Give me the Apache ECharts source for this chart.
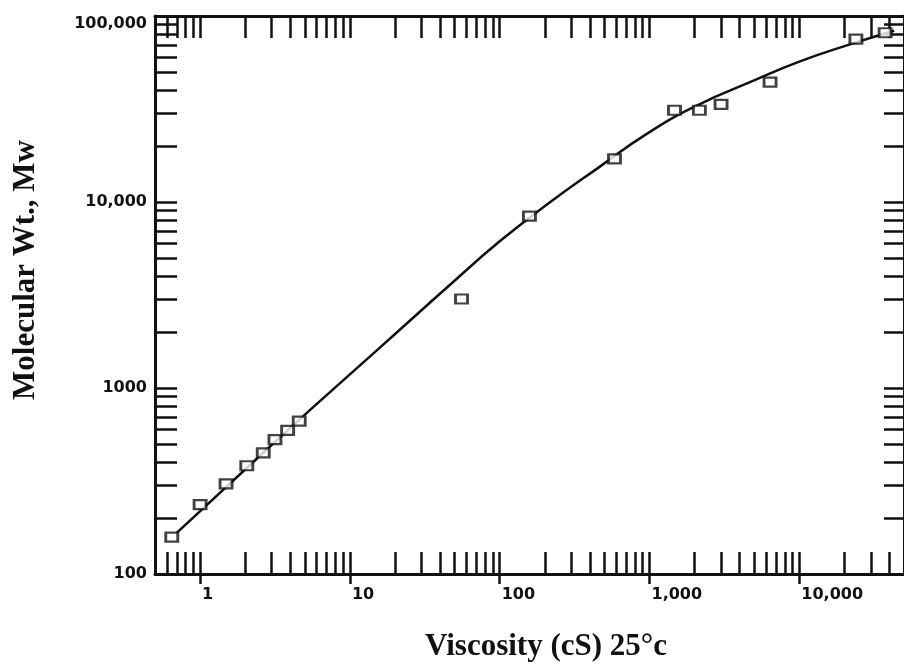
<!DOCTYPE html>
<html><head><meta charset="utf-8">
<script src="https://cdn.jsdelivr.net/npm/echarts@6/dist/echarts.min.js"></script>
<style>html,body{margin:0;padding:0;background:#fff}#c{width:904px;height:667px}</style>
</head><body><div id="c"></div>
<script>
// Measured points (viscosity cS, molecular weight Mw)
const viscosity = [0.647, 1.0, 1.49, 2.05, 2.64, 3.16, 3.84, 4.59, 55.6, 158, 584, 1468, 2154, 3005, 6380, 23870, 37400];
const molWt     = [158, 236, 305, 382, 448, 528, 592, 664, 3010, 8390, 17060, 31150, 31150, 33500, 44100, 75170, 81300];

// Fitted curve
const curveX = [0.692, 2.154, 4.642, 10, 21.54, 46.42, 100, 215.4, 464.2, 1000, 2154, 4642, 10000, 21540, 43000];
const curveY = [165.5, 385.7, 680.6, 1183, 2058, 3578, 6145, 9927, 15450, 23760, 33530, 43930, 56870, 70110, 83250];

// Axis ticks and labels
const xMin = 0.5, xMax = 50000, yMin = 100, yMax = 100000;
const xTickValues = [0.6,0.7,0.8,0.9,1,2,3,4,5,6,7,8,9,10,20,30,40,50,60,70,80,90,100,200,300,400,500,600,700,800,900,1000,2000,3000,4000,5000,6000,7000,8000,9000,10000,20000,30000,40000,50000];
const yTickValues = [100,200,300,400,500,600,700,800,900,1000,2000,3000,4000,5000,6000,7000,8000,9000,10000,20000,30000,40000,50000,60000,70000,80000,90000,100000];
const xLabelValues = [1, 10, 100, 1000, 10000];
const xLabelTexts  = ['1', '10', '100', '1,000', '10,000'];
const yLabelValues = [100, 1000, 10000, 100000];
const yLabelTexts  = ['100', '1000', '10,000', '100,000'];

function pick(vals, texts, v) {
  let best = 0, bd = Infinity;
  vals.forEach((x, i) => { const d = Math.abs(Math.log10(x) - Math.log10(v)); if (d < bd) { bd = d; best = i; } });
  return bd < 0.01 ? texts[best] : '';
}

const ink = '#111';
const labelFont = { fontFamily: 'DejaVu Sans', fontWeight: 'bold', fontSize: 16, color: ink };
const titleFont = { fontFamily: 'Liberation Serif', fontWeight: 'bold', fontSize: 31, color: ink };
const axLine = { show: true, lineStyle: { color: ink, width: 3 } };
const tickStyle = { color: ink, width: 2.5 };

const chart = echarts.init(document.getElementById('c'), null, { renderer: 'canvas' });
chart.setOption({
  backgroundColor: '#fff',
  animation: false,
  grid: { left: 155, top: 16, width: 750, height: 562, containLabel: false },
  xAxis: [
    {
      type: 'log', logBase: 10, min: xMin, max: xMax, position: 'bottom',
      axisLine: axLine,
      axisTick: { show: true, inside: true, length: 22, customValues: xTickValues, lineStyle: tickStyle },
      axisLabel: Object.assign({ customValues: xLabelValues, align: 'left', margin: 13, padding: [0, 0, 0, 2],
        formatter: v => pick(xLabelValues, xLabelTexts, v) }, labelFont),
      splitLine: { show: false },
      name: 'Viscosity (cS) 25°c', nameLocation: 'middle', nameGap: 57,
      nameTextStyle: Object.assign({ padding: [0, 0, 0, 33] }, titleFont)
    },
    {
      type: 'log', logBase: 10, min: xMin, max: xMax, position: 'top',
      axisLine: axLine,
      axisTick: { show: true, inside: true, length: 22, customValues: xTickValues, lineStyle: tickStyle },
      axisLabel: { show: false }, splitLine: { show: false }
    },
    {
      type: 'log', logBase: 10, min: xMin, max: xMax, position: 'bottom',
      axisLine: { show: false },
      axisTick: { show: true, inside: false, length: 10, customValues: xLabelValues, lineStyle: tickStyle },
      axisLabel: { show: false }, splitLine: { show: false }
    }
  ],
  yAxis: [
    {
      type: 'log', logBase: 10, min: yMin, max: yMax, position: 'left',
      axisLine: axLine,
      axisTick: { show: true, inside: true, length: 22, customValues: yTickValues, lineStyle: tickStyle },
      axisLabel: Object.assign({ customValues: yLabelValues, margin: 8,
        verticalAlignMaxLabel: 'top',
        formatter: v => pick(yLabelValues, yLabelTexts, v) }, labelFont),
      splitLine: { show: false },
      name: 'Molecular Wt., Mw', nameLocation: 'middle', nameRotate: 90, nameGap: 114,
      nameTextStyle: Object.assign({ padding: [0, 0, 0, 50] }, titleFont)
    },
    {
      type: 'log', logBase: 10, min: yMin, max: yMax, position: 'right',
      axisLine: axLine,
      axisTick: { show: true, inside: true, length: 20, customValues: yTickValues, lineStyle: tickStyle },
      axisLabel: { show: false }, splitLine: { show: false }
    }
  ],
  series: [
    {
      type: 'line', xAxisIndex: 0, yAxisIndex: 0,
      data: curveX.map((x, i) => [x, curveY[i]]),
      smooth: 0.5, showSymbol: false, symbol: 'none',
      lineStyle: { color: ink, width: 2.5 }, z: 2
    },
    {
      type: 'scatter', xAxisIndex: 0, yAxisIndex: 0,
      data: viscosity.map((x, i) => [x, molWt[i]]),
      symbol: 'rect', symbolSize: [12, 9],
      itemStyle: { color: '#fff', borderColor: ink, borderWidth: 2.5 }, z: 3
    }
  ]
});
</script>
</body></html>
